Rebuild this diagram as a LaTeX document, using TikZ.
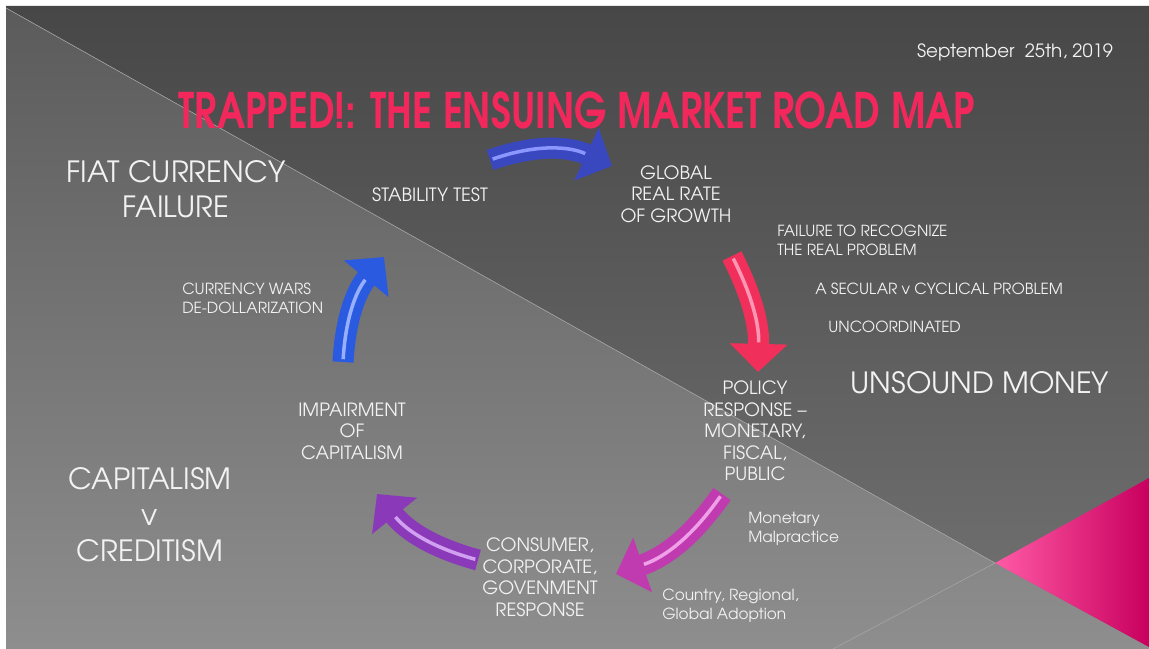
\documentclass[tikz,border=0pt]{standalone}
\usepackage{fontspec}
\setmainfont{TeX Gyre Adventor}
\usepackage{xcolor}
\usepackage{tikz}
\usetikzlibrary{arrows.meta,positioning,shapes}

\definecolor{bgdark}{HTML}{474747}
\definecolor{bgdarklow}{HTML}{737373}
\definecolor{bglight}{HTML}{5B5B5B}
\definecolor{bglightlow}{HTML}{8E8E8E}
\definecolor{titlered}{HTML}{F2285C}
\definecolor{txtw}{HTML}{F2F2F2}
\definecolor{pinktip}{HTML}{FF5AA6}
\definecolor{pinkmid}{HTML}{F2007A}
\definecolor{pinkend}{HTML}{C8005E}

\begin{document}
\begin{tikzpicture}[x=0.025cm,y=-0.025cm,
          every node/.style={text=txtw,inner sep=0pt},
          stage/.style={align=center,font=\fontsize{13}{15.3}\selectfont},
          note/.style={anchor=west,align=left,font=\fontsize{10.9}{13.5}\selectfont},
          big/.style={align=center,font=\fontsize{20.8}{24.5}\selectfont},
          arr/.style={line width=15pt,-{Triangle[length=20pt,width=40pt]}},
          shine/.style={line width=2.5pt,shorten >=21pt,shorten <=2pt}]
        \useasboundingbox (0,0) rectangle (1149,649);
        \fill[white] (0,0) rectangle (1149,649);
        % background halves
        \shade[top color=bgdark,bottom color=bgdarklow] (6,6) -- (1149,6) -- (1149,649) -- (833,649) -- (995,563) -- (6,8) -- cycle;
        \shade[top color=bglight,bottom color=bglightlow] (6,8) -- (995,563) -- (1149,647) -- (1149,649) -- (6,649) -- cycle;
        \draw[gray!70,line width=0.4pt] (6,8) -- (995,563) -- (833,649);
        \shade[left color=pinktip,middle color=pinkmid,right color=pinkend] (995,563) -- (1149,478) -- (1149,647) -- cycle;
        % texts
        \node (date) at (1015,52) {\fontsize{13}{15}\selectfont September\ \ 25th, 2019};
        \node[text=titlered] (title) at (577,110) {\resizebox{19.9cm}{0.92cm}{\bfseries TRAPPED!: THE ENSUING MARKET ROAD MAP}};
        \node[big] (fiat) at (176,189) {FIAT CURRENCY\\FAILURE};
        \node[big] (unsound) at (980,383) {UNSOUND MONEY};
        \node[big,font=\fontsize{20.8}{25.5}\selectfont] (capit) at (150,515) {CAPITALISM\\v\\CREDITISM};
        \node[stage] (stab) at (430,195) {STABILITY TEST};
        \node[stage] (glob) at (676,194) {GLOBAL\\REAL RATE\\OF GROWTH};
        \node[stage] (policy) at (755,431) {POLICY\\RESPONSE --\\MONETARY,\\FISCAL,\\PUBLIC};
        \node[stage] (cons) at (540,577) {CONSUMER,\\CORPORATE,\\GOVENMENT\\RESPONSE};
        \node[stage] (impair) at (352,431) {IMPAIRMENT\\OF\\CAPITALISM};
        \node[note] (fail) at (777,240) {FAILURE TO RECOGNIZE\\THE REAL PROBLEM};
        \node[note] (secular) at (815,289) {A SECULAR v CYCLICAL PROBLEM};
        \node[note] (uncoord) at (828,327) {UNCOORDINATED};
        \node[note] (malp) at (748,529) {Monetary\\Malpractice};
        \node[note] (adopt) at (662,606) {Country, Regional,\\Global Adoption};
        \node[note] (wars) at (182,298) {CURRENCY WARS\\DE-DOLLARIZATION};
        % arrow ends
        \coordinate (b1s) at (490,160); \coordinate (b1e) at (612,166);
        \coordinate (r1s) at (732,256); \coordinate (r1e) at (758,372);
        \coordinate (m1s) at (722,494); \coordinate (m1e) at (616,574);
        \coordinate (p1s) at (478,560); \coordinate (p1e) at (377,494);
        \coordinate (l1s) at (343,362); \coordinate (l1e) at (384,257);
        % cycle arrows
        \draw[arr,color={rgb,255:red,58;green,72;blue,192}] (b1s) to[bend left=22] (b1e);
        \draw[shine,color={rgb,255:red,140;green,150;blue,255}] (b1s) to[bend left=22] (b1e);
        \draw[arr,color={rgb,255:red,240;green,48;blue,90}] (r1s) to[bend left=14] (r1e);
        \draw[shine,color={rgb,255:red,255;green,150;blue,180}] (r1s) to[bend left=14] (r1e);
        \draw[arr,color={rgb,255:red,192;green,58;blue,176}] (m1s) to[bend left=18] (m1e);
        \draw[shine,color={rgb,255:red,240;green,160;blue,232}] (m1s) to[bend left=18] (m1e);
        \draw[arr,color={rgb,255:red,138;green,58;blue,184}] (p1s) to[bend left=18] (p1e);
        \draw[shine,color={rgb,255:red,210;green,160;blue,240}] (p1s) to[bend left=18] (p1e);
        \draw[arr,color={rgb,255:red,42;green,90;blue,224}] (l1s) to[bend left=18] (l1e);
        \draw[shine,color={rgb,255:red,150;green,176;blue,255}] (l1s) to[bend left=18] (l1e);
      \end{tikzpicture}
\end{document}
